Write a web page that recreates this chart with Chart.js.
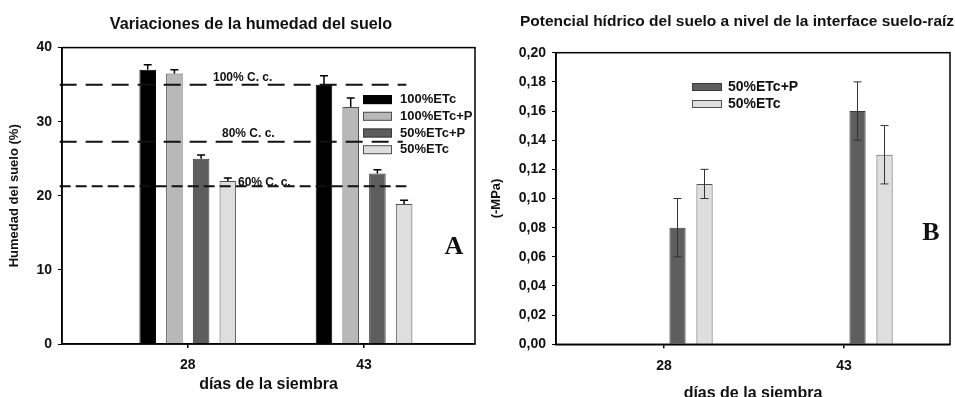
<!DOCTYPE html>
<html>
<head>
<meta charset="utf-8">
<script src="https://cdn.jsdelivr.net/npm/chart.js@4.4.1/dist/chart.umd.min.js"></script>
<style>
    body { margin: 0; background: #fff; width: 955px; height: 397px; overflow: hidden; position: relative; font-family: 'Liberation Sans', Arial, sans-serif; }
    .panel { position: absolute; top: 0; }
    .title { position: absolute; font-weight: bold; font-size: 15.5px; line-height: 18px; white-space: nowrap; color: #111; transform: translateX(-50%); }
</style>
</head>
<body>
<div class="panel" style="left:0"><canvas id="chartA" width="480" height="397"></canvas></div>
<div class="panel" style="left:480px"><canvas id="chartB" width="475" height="397"></canvas></div>
<div class="title" style="left:251px; top:14px; font-size:16.2px">Variaciones de la humedad del suelo</div>
<div class="title" style="left:737px; top:12px">Potencial hídrico del suelo a nivel de la interface suelo-raíz</div>
<script>
// Data
const days = [28, 43];
const seriesNames = ['100%ETc', '100%ETc+P', '50%ETc+P', '50%ETc'];

// Panel A: soil moisture (%)
const humedad100 = [37.0, 35.0];
const humedad100P = [36.5, 32.0];
const humedad50P = [25.0, 23.0];
const humedad50 = [22.0, 18.9];
const errHumedad100 = [0.7, 1.2];
const errHumedad100P = [0.5, 1.2];
const errHumedad50P = [0.5, 0.5];
const errHumedad50 = [0.4, 0.5];
const humedadTicks = [0, 10, 20, 30, 40];

// Field capacity reference lines
const capacidadNames = ['100% C. c.', '80% C. c.', '60% C. c.'];
const capacidadValues = [35.0, 27.3, 21.3];
const capacidadStart = [17.1, 17.1, 17.1];
const capacidadEnd = [46.6, 46.3, 46.6];

// Panel B: soil water potential (-MPa)
const potencial50P = [0.08, 0.16];
const potencial50 = [0.11, 0.13];
const errPotencial50P = [0.02, 0.02];
const errPotencial50 = [0.01, 0.02];
const potencialTicks = [0, 0.02, 0.04, 0.06, 0.08, 0.10, 0.12, 0.14, 0.16, 0.18, 0.20];

const colors = {
    '100%ETc': ['#000000', '#000000'],
    '100%ETc+P': ['#b8b8b8', '#505050'],
    '50%ETc+P': ['#5e5e5e', '#3a3a3a'],
    '50%ETc': ['#dedede', '#505050']
};
const dashes = [[17, 9], [17, 9], [11, 5]];

const fontFamily = "'Liberation Sans', Arial, sans-serif";
const bold = size => ({ family: fontFamily, size: size, weight: 'bold' });

// Build one bar dataset with its error values
function barSet(name, values, errors) {
    return {
        label: name,
        data: values.map((v, i) => ({ x: days[i], y: v })),
        errors: errors,
        backgroundColor: colors[name][0],
        borderColor: colors[name][1],
        borderWidth: 1,
        order: 1
    };
}

// Error bars drawn from each bar's own element
const errorBars = {
    id: 'errorBars',
    afterDatasetsDraw(chart, args, opts) {
        const ctx = chart.ctx;
        const yScale = chart.scales.y;
        ctx.save();
        ctx.strokeStyle = opts.color;
        ctx.lineWidth = opts.width;
        chart.data.datasets.forEach((ds, i) => {
            if (!ds.errors) return;
            const meta = chart.getDatasetMeta(i);
            meta.data.forEach((bar, j) => {
                const v = ds.data[j].y;
                const e = ds.errors[j];
                const top = yScale.getPixelForValue(v + e);
                const bottom = opts.both ? yScale.getPixelForValue(v - e) : bar.y;
                ctx.beginPath();
                ctx.moveTo(bar.x, bottom);
                ctx.lineTo(bar.x, top);
                ctx.moveTo(bar.x - opts.cap, top);
                ctx.lineTo(bar.x + opts.cap, top);
                if (opts.both) {
                    ctx.moveTo(bar.x - opts.cap, bottom);
                    ctx.lineTo(bar.x + opts.cap, bottom);
                }
                ctx.stroke();
            });
        });
        ctx.restore();
    }
};

// Frame, inner legend, panel letter and reference line labels
const decor = {
    id: 'decor',
    afterDraw(chart, args, opts) {
        const ctx = chart.ctx;
        const a = chart.chartArea;
        ctx.save();
        ctx.strokeStyle = '#000';
        ctx.lineWidth = 1.5;
        ctx.strokeRect(a.left, a.top, a.right - a.left, a.bottom - a.top);

        // legend inside the plot
        ctx.font = `bold ${opts.legendSize}px ${fontFamily}`;
        ctx.textBaseline = 'middle';
        ctx.textAlign = 'left';
        opts.legend.forEach((name, i) => {
            const ds = chart.data.datasets.find(d => d.label === name);
            const bx = a.left + opts.legendX;
            const by = a.top + opts.legendY + i * opts.legendStep;
            ctx.fillStyle = ds.backgroundColor;
            ctx.fillRect(bx, by - opts.boxH / 2, opts.boxW, opts.boxH);
            ctx.lineWidth = 1;
            ctx.strokeStyle = ds.borderColor;
            ctx.strokeRect(bx + 0.5, by - opts.boxH / 2 + 0.5, opts.boxW - 1, opts.boxH - 1);
            ctx.fillStyle = '#111';
            ctx.fillText(name, bx + opts.boxW + opts.textGap, by);
        });

        // labels on the dashed lines
        if (opts.lineLabels) {
            ctx.font = `bold 12px ${fontFamily}`;
            opts.lineLabels.forEach((lab, i) => {
                const ly = chart.scales.y.getPixelForValue(capacidadValues[i]) + lab.dy;
                ctx.fillText(capacidadNames[i], a.left + lab.dx, ly);
            });
        }

        // panel letter
        ctx.font = `bold 26px 'Liberation Serif', 'Times New Roman', serif`;
        ctx.textAlign = 'center';
        ctx.fillStyle = '#111';
        ctx.fillText(opts.letter, a.right + opts.letterX, a.top + opts.letterY);
        ctx.restore();
    }
};

function axisX(min, max, height, titlePad) {
    return {
        type: 'linear',
        min: min,
        max: max,
        offset: false,
        afterBuildTicks: s => { s.ticks = days.map(v => ({ value: v })); },
        afterFit: s => { s.height = height; },
        ticks: { color: '#111', font: bold(14), padding: 9, maxRotation: 0, callback: v => String(v) },
        grid: { offset: false, drawOnChartArea: false, drawTicks: true, tickLength: 4, color: '#000', lineWidth: 1.5 },
        border: { color: '#000', width: 1.5 },
        title: { display: true, text: 'días de la siembra', color: '#111', font: bold(16), padding: { top: 0, bottom: titlePad } }
    };
}

function axisY(max, tickValues, width, title, titlePad, fmt) {
    return {
        min: 0,
        max: max,
        afterBuildTicks: s => { s.ticks = tickValues.map(v => ({ value: v })); },
        afterFit: s => { s.width = width; },
        ticks: { color: '#111', font: bold(14), padding: 6, callback: fmt },
        grid: { drawOnChartArea: false, drawTicks: true, tickLength: 4, color: '#000', lineWidth: 1 },
        border: { color: '#000', width: 1.5 },
        title: { display: true, text: title, color: '#111', font: bold(13), padding: { top: titlePad, bottom: 0 } }
    };
}

// Panel A
const capacidadLines = capacidadValues.map((v, i) => ({
    type: 'line',
    label: capacidadNames[i],
    data: [{ x: capacidadStart[i], y: v }, { x: capacidadEnd[i], y: v }],
    borderColor: '#111',
    borderWidth: 2,
    borderDash: dashes[i],
    borderDashOffset: 0,
    pointRadius: 0,
    clip: 6,
    order: 0
}));

new Chart(document.getElementById('chartA'), {
    type: 'bar',
    data: {
        datasets: [
            barSet('100%ETc', humedad100, errHumedad100),
            barSet('100%ETc+P', humedad100P, errHumedad100P),
            barSet('50%ETc+P', humedad50P, errHumedad50P),
            barSet('50%ETc', humedad50, errHumedad50),
            ...capacidadLines
        ]
    },
    options: {
        responsive: false,
        animation: false,
        events: [],
        categoryPercentage: 0.606,
        barPercentage: 0.62,
        layout: { padding: { left: 0, right: 5, top: 47.6, bottom: 0 } },
        scales: {
            x: axisX(17.3, 52.44, 53, 2.4),
            y: axisY(40, humedadTicks, 62, 'Humedad del suelo (%)', 7, v => String(v))
        },
        plugins: {
            legend: { display: false },
            tooltip: { enabled: false },
            errorBars: { color: '#000', width: 1.5, cap: 4, both: false },
            decor: {
                legend: seriesNames,
                legendSize: 13, legendX: 301, legendY: 52, legendStep: 16.7,
                boxW: 29, boxH: 9, textGap: 8,
                lineLabels: [{ dx: 151, dy: -7 }, { dx: 160, dy: -8 }, { dx: 176, dy: -3 }],
                letter: 'A', letterX: -21, letterY: 200
            }
        }
    },
    plugins: [errorBars, decor]
});

// Panel B
new Chart(document.getElementById('chartB'), {
    type: 'bar',
    data: {
        datasets: [
            barSet('100%ETc', [], []),
            barSet('100%ETc+P', [], []),
            barSet('50%ETc+P', potencial50P, errPotencial50P),
            barSet('50%ETc', potencial50, errPotencial50)
        ]
    },
    options: {
        responsive: false,
        animation: false,
        events: [],
        categoryPercentage: 0.6,
        barPercentage: 0.6,
        layout: { padding: { left: 0, right: 5, top: 52.7, bottom: 0 } },
        scales: {
            x: axisX(19, 51.83, 52.7, -6.6),
            y: axisY(0.2, potencialTicks, 76, '(-MPa)', 9, v => v.toFixed(2).replace('.', ','))
        },
        plugins: {
            legend: { display: false },
            tooltip: { enabled: false },
            errorBars: { color: '#333', width: 1, cap: 4, both: true },
            decor: {
                legend: ['50%ETc+P', '50%ETc'],
                legendSize: 14, legendX: 136, legendY: 34.3, legendStep: 17,
                boxW: 30, boxH: 8, textGap: 6,
                letter: 'B', letterX: -19, letterY: 181
            }
        }
    },
    plugins: [errorBars, decor]
});
</script>
</body>
</html>
